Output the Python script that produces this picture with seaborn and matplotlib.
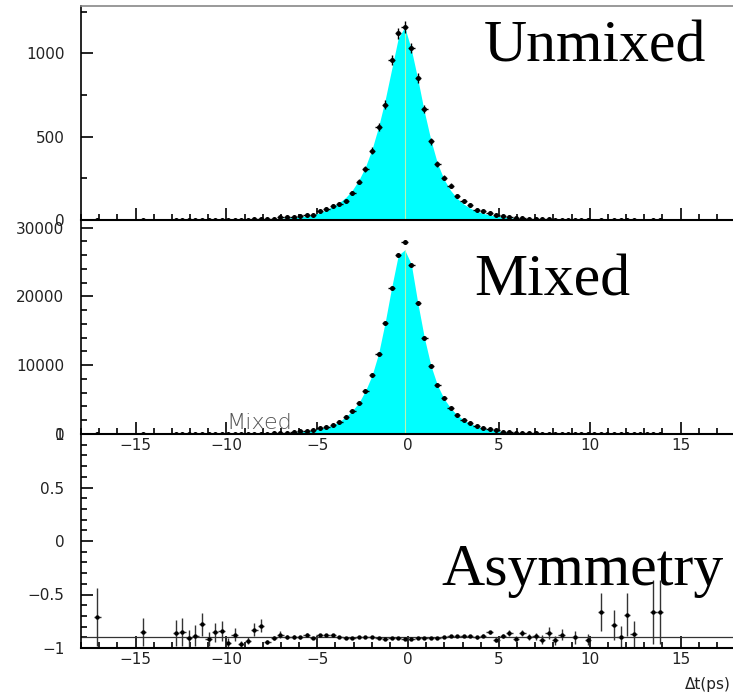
import numpy as np
import pandas as pd
import matplotlib
matplotlib.use("Agg")
import matplotlib.pyplot as plt
from matplotlib.ticker import MultipleLocator, FuncFormatter
import seaborn as sns

# Δt histogram binning: 100 bins over [-18, 18] ps
N_BINS = 100
T_MIN, T_MAX = -18.0, 18.0

# Unmixed events per bin
unmixed_counts = [
    0, 0, 1, 0, 0, 0, 0, 0, 0, 1,
    0, 0, 0, 0, 1, 1, 1, 1, 2, 1,
    2, 2, 1, 2, 2, 3, 4, 5, 4, 7,
    18, 16, 20, 24, 30, 33, 52, 68, 87, 94,
    116, 161, 231, 307, 416, 558, 691, 962, 1120, 1158,
    1032, 851, 665, 472, 337, 253, 206, 145, 116, 89,
    63, 52, 45, 28, 22, 18, 14, 11, 9, 7,
    5, 5, 3, 3, 2, 2, 1, 1, 0, 1,
    0, 1, 1, 1, 1, 0, 0, 1, 1, 0,
    0, 0, 0, 0, 0, 0, 0, 0, 0, 0,
]
unmixed_errors = [
    0, 0, 1, 0, 0, 0, 0, 0, 0, 1,
    0, 0, 0, 0, 1, 1, 1, 1, 1.4, 1,
    1.4, 1.4, 1, 1.4, 1.4, 1.7, 2, 2.2, 2, 2.6,
    4.2, 4, 4.5, 4.9, 5.5, 5.7, 7.2, 8.2, 9.3, 9.7,
    10.8, 12.7, 15.2, 17.5, 20.4, 23.6, 26.3, 31, 33.5, 34,
    32.1, 29.2, 25.8, 21.7, 18.4, 15.9, 14.4, 12, 10.8, 9.4,
    7.9, 7.2, 6.7, 5.3, 4.7, 4.2, 3.7, 3.3, 3, 2.6,
    2.2, 2.2, 1.7, 1.7, 1.4, 1.4, 1, 1, 0, 1,
    0, 1, 1, 1, 1, 0, 0, 1, 1, 0,
    0, 0, 0, 0, 0, 0, 0, 0, 0, 0,
]
unmixed_fit = [
    0, 0, 0, 0, 0, 0, 0, 0, 0, 0.1,
    0.1, 0.1, 0.2, 0.2, 0.3, 0.3, 0.4, 0.5, 0.6, 0.8,
    1, 1.2, 1.5, 1.9, 2.4, 3, 3.8, 4.8, 6, 7.6,
    9.6, 12, 15, 19, 24, 31, 43, 60, 82, 105,
    136, 180, 240, 320, 425, 560, 720, 905, 1090, 1158,
    1025, 845, 650, 480, 340, 245, 178, 130, 96, 71,
    53, 40, 30, 23, 17, 13, 10, 7.6, 5.8, 4.4,
    3.4, 2.6, 2, 1.5, 1.2, 0.9, 0.7, 0.5, 0.4, 0.3,
    0.2, 0.2, 0.1, 0.1, 0.1, 0, 0, 0, 0, 0,
    0, 0, 0, 0, 0, 0, 0, 0, 0, 0,
]

# Mixed events per bin
mixed_counts = [
    0, 0, 6, 0, 0, 0, 0, 0, 0, 12,
    0, 0, 0, 0, 14, 13, 22, 17, 9, 24,
    14, 12, 40, 16, 50, 48, 25, 38, 70, 95,
    140, 180, 230, 380, 480, 620, 800, 1080, 1260, 1793,
    2520, 3393, 4556, 6301, 8531, 11681, 16189, 21279, 26029, 27967,
    24575, 19001, 13960, 9936, 7125, 5186, 3829, 2715, 2084, 1600,
    1140, 860, 700, 520, 360, 260, 200, 150, 120, 95,
    70, 55, 45, 35, 28, 22, 18, 14, 10, 6,
    5, 5, 9, 4, 7, 3, 2, 3, 3, 0,
    0, 0, 0, 0, 0, 0, 0, 0, 0, 0,
]
mixed_errors = [
    0, 0, 2.4, 0, 0, 0, 0, 0, 0, 3.5,
    0, 0, 0, 0, 3.7, 3.6, 4.7, 4.1, 3, 4.9,
    3.7, 3.5, 6.3, 4, 7.1, 6.9, 5, 6.2, 8.4, 9.7,
    12, 13, 15, 19.5, 22, 25, 28, 33, 35.5, 42,
    50, 58, 67, 79, 92, 108, 127, 146, 161, 167,
    157, 138, 118, 100, 84, 72, 62, 52, 46, 40,
    34, 29, 26, 23, 19, 16, 14, 12, 11, 9.7,
    8.4, 7.4, 6.7, 5.9, 5.3, 4.7, 4.2, 3.7, 3.2, 2.4,
    2.2, 2.2, 3, 2, 2.6, 1.7, 1.4, 1.7, 1.7, 0,
    0, 0, 0, 0, 0, 0, 0, 0, 0, 0,
]
mixed_fit = [
    0, 0, 0, 0, 0, 0, 0, 0, 0, 0,
    0, 0, 0, 0, 0, 0, 1, 1, 1, 1,
    2, 3, 4, 5, 7, 9, 12, 16, 22, 30,
    130, 170, 230, 300, 420, 560, 760, 1020, 1330, 1800,
    2500, 3400, 4560, 6300, 8520, 11700, 16200, 21300, 25950, 26760,
    24700, 19050, 14000, 9950, 7100, 5150, 3790, 2760, 2040, 1520,
    1130, 850, 640, 480, 360, 270, 200, 150, 115, 85,
    64, 48, 36, 27, 20, 15, 11, 8, 6, 4.5,
    3.4, 2.5, 1.9, 1.4, 1, 0.8, 0.6, 0.4, 0.3, 0.2,
    0, 0, 0, 0, 0, 0, 0, 0, 0, 0,
]

# Asymmetry (unmixed - mixed) / (unmixed + mixed) for the filled bins
asym_bins = [2, 9, 14, 15, 16, 17, 18, 19, 20, 21,
             22, 23, 24, 25, 26, 27, 28, 29, 30, 31,
             32, 33, 34, 35, 36, 37, 38, 39, 40, 41,
             42, 43, 44, 45, 46, 47, 48, 49, 50, 51,
             52, 53, 54, 55, 56, 57, 58, 59, 60, 61,
             62, 63, 64, 65, 66, 67, 68, 69, 70, 71,
             72, 73, 75, 77, 79, 81, 82, 83, 84, 87, 88]
asym_values = [-0.71, -0.85, -0.86, -0.85, -0.91, -0.885, -0.78, -0.92, -0.855, -0.84,
               -0.955, -0.875, -0.96, -0.93, -0.83, -0.79, -0.945, -0.905, -0.875, -0.90,
               -0.90, -0.90, -0.875, -0.905, -0.875, -0.875, -0.875, -0.90, -0.905, -0.905,
               -0.90, -0.90, -0.90, -0.905, -0.915, -0.905, -0.91, -0.915, -0.915, -0.905,
               -0.905, -0.905, -0.905, -0.90, -0.89, -0.89, -0.89, -0.89, -0.90, -0.885,
               -0.855, -0.925, -0.885, -0.86, -0.913, -0.86, -0.897, -0.891, -0.922, -0.86,
               -0.928, -0.875, -0.90, -0.922, -0.662, -0.784, -0.897, -0.687, -0.866, -0.662, -0.662]
asym_errors = [0.27, 0.13, 0.125, 0.13, 0.08, 0.10, 0.11, 0.065, 0.09, 0.09,
               0.05, 0.06, 0.03, 0.03, 0.06, 0.065, 0.02, 0.02, 0.03, 0.02,
               0.02, 0.015, 0.015, 0.012, 0.01, 0.01, 0.01, 0.008, 0.007, 0.006,
               0.005, 0.004, 0.004, 0.003, 0.003, 0.003, 0.003, 0.003, 0.003, 0.003,
               0.004, 0.004, 0.005, 0.006, 0.007, 0.008, 0.009, 0.01, 0.012, 0.014,
               0.015, 0.02, 0.02, 0.025, 0.025, 0.03, 0.03, 0.035, 0.04, 0.06,
               0.04, 0.05, 0.06, 0.05, 0.18, 0.14, 0.10, 0.20, 0.12, 0.30, 0.30]
asym_fit_level = -0.90

titles = ["Unmixed", "Mixed", "Asymmetry"]
x_label = "\u0394t(ps)"

# ---------------------------------------------------------------------------
sns.set_theme(style="ticks")
plt.rcParams["font.family"] = ["DejaVu Sans"]
plt.rcParams["axes.unicode_minus"] = True

edges = np.linspace(T_MIN, T_MAX, N_BINS + 1)
centers = 0.5 * (edges[:-1] + edges[1:])
half_w = 0.5 * (edges[1] - edges[0])

hist = pd.DataFrame({
    "t": centers,
    "unmixed": unmixed_counts, "unmixed_err": unmixed_errors, "unmixed_fit": unmixed_fit,
    "mixed": mixed_counts, "mixed_err": mixed_errors, "mixed_fit": mixed_fit,
})
asym = pd.DataFrame({"t": centers[asym_bins], "A": asym_values, "err": asym_errors})

W_PX, H_PX = 733, 696
fig = plt.figure(figsize=(W_PX / 100, H_PX / 100), dpi=100, facecolor="white")
left = 81 / W_PX
width = 654 / W_PX
ph = 214 / H_PX
ax_top = fig.add_axes([left, 1 - 220 / H_PX, width, ph])
ax_mid = fig.add_axes([left, 1 - 434 / H_PX, width, ph])
ax_bot = fig.add_axes([left, 1 - 648 / H_PX, width, ph])

tick_color = "#222222"
label_fmt = FuncFormatter(lambda v, p: f"{v:g}".replace("-", "\u2212"))


def style_axes(ax, ymajor, yminor, show_xlabels):
    ax.set_facecolor("none")
    ax.set_xlim(T_MIN, T_MAX)
    ax.xaxis.set_major_locator(MultipleLocator(5))
    ax.xaxis.set_minor_locator(MultipleLocator(1))
    ax.yaxis.set_major_locator(MultipleLocator(ymajor))
    ax.yaxis.set_minor_locator(MultipleLocator(yminor))
    ax.xaxis.set_major_formatter(label_fmt)
    ax.yaxis.set_major_formatter(label_fmt)
    ax.tick_params(axis="both", which="major", direction="in", length=8.6, width=1.2,
                   color="black", labelsize=11, labelcolor=tick_color)
    ax.tick_params(axis="both", which="minor", direction="in", length=4.3, width=1.2,
                   color="black")
    ax.tick_params(axis="y", which="both", pad=12)
    ax.tick_params(axis="x", which="both", pad=3, labelbottom=show_xlabels)
    ax.tick_params(top=False, right=False, which="both")
    ax.spines["right"].set_visible(False)
    ax.spines["top"].set_visible(False)
    ax.spines["left"].set_linewidth(1.2)
    ax.spines["left"].set_color("black")
    ax.spines["bottom"].set_linewidth(1.5)
    ax.spines["bottom"].set_color("black")
    ax.grid(False)
    ax.set_xlabel("")
    ax.set_ylabel("")


def draw_hist(ax, col):
    fit = hist[f"{col}_fit"].to_numpy()
    ax.fill_between(hist["t"], 0, fit, color="#00FFFF", lw=0, zorder=1)
    k = int(np.argmax(fit))
    ax.vlines(hist["t"].iloc[k], 0, fit[k], color="#B8F5B0", lw=0.8, zorder=2)
    pts = hist[hist[col] > 0]
    ax.errorbar(pts["t"], pts[col], yerr=pts[f"{col}_err"], xerr=half_w,
                fmt="none", ecolor="black", elinewidth=1.0, capsize=0, zorder=3)
    sns.scatterplot(data=pts, x="t", y=col, ax=ax, color="black", s=13,
                    linewidth=0, marker="o", zorder=4, legend=False)


# Unmixed
draw_hist(ax_top, "unmixed")
ax_top.set_ylim(0, 1284)
style_axes(ax_top, 500, 250, False)
ax_top.spines["top"].set_visible(True)
ax_top.spines["top"].set_color("#888888")
ax_top.spines["top"].set_linewidth(1.2)

# Mixed
draw_hist(ax_mid, "mixed")
ax_mid.set_ylim(0, 31100)
style_axes(ax_mid, 10000, 2000, True)
ax_mid.text(-10, 700, "Mixed", fontsize=16, color="#555555", fontweight="light",
            ha="left", va="baseline", zorder=5)

# Asymmetry
ax_bot.axhline(asym_fit_level, color="#333333", lw=0.9, zorder=1)
ax_bot.errorbar(asym["t"], asym["A"], yerr=asym["err"], xerr=half_w, fmt="none",
                ecolor="#333333", elinewidth=1.0, capsize=0, zorder=2)
sns.scatterplot(data=asym, x="t", y="A", ax=ax_bot, color="black", s=10,
                linewidth=0, marker="o", zorder=3, legend=False)
ax_bot.set_ylim(-1, 1)
style_axes(ax_bot, 0.5, 0.1, True)

# Panel titles
serif = dict(family=["Liberation Serif", "DejaVu Serif"], fontsize=43, color="black",
             ha="left", va="baseline")
ax_top.text((484 - 81) / 654, (220 - 61) / 214, titles[0], transform=ax_top.transAxes, **serif)
ax_mid.text((474 - 81) / 654, (434 - 296) / 214, titles[1], transform=ax_mid.transAxes, **serif)
ax_bot.text((441 - 81) / 654, (648 - 585) / 214, titles[2], transform=ax_bot.transAxes, **serif)

fig.text(731 / W_PX, 1 - 684 / H_PX, x_label, fontsize=11, color=tick_color,
         ha="right", va="center")

fig.savefig("out.png", dpi=100, facecolor="white")
